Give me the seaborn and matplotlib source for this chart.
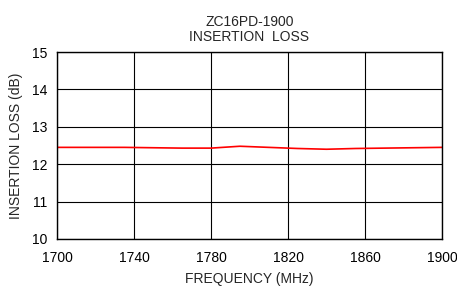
import matplotlib
matplotlib.use("Agg")
import matplotlib.pyplot as plt
import seaborn as sns
import pandas as pd

freq = [1700, 1720, 1735, 1750, 1765, 1780, 1795, 1810, 1825, 1840, 1855, 1870, 1885, 1900]
loss = [12.45, 12.45, 12.45, 12.44, 12.43, 12.43, 12.48, 12.45, 12.42, 12.40, 12.42, 12.43, 12.44, 12.45]
x_ticks = [1700, 1740, 1780, 1820, 1860, 1900]
y_ticks = [10, 11, 12, 13, 14, 15]

df = pd.DataFrame({"Frequency": freq, "Loss": loss})

sns.set_style("white")
plt.rcParams["font.family"] = ["Liberation Sans", "DejaVu Sans"]

fig = plt.figure(figsize=(4.57, 2.91), dpi=100)
ax = fig.add_axes([0.1247, 0.1787, 0.8425, 0.6426])

sns.lineplot(data=df, x="Frequency", y="Loss", color="red", linewidth=1.2, ax=ax)

ax.set_xlim(1700, 1900)
ax.set_ylim(10, 15)
ax.set_xticks(x_ticks)
ax.set_yticks(y_ticks)
ax.grid(True, color="black", linewidth=0.8)
for s in ax.spines.values():
    s.set_color("black")
    s.set_linewidth(1.0)
ax.tick_params(axis="both", direction="out", length=4, width=0.8, colors="black", labelsize=10, pad=3)
ax.tick_params(axis="x", pad=5)

ax.set_xlabel("FREQUENCY (MHz)", fontsize=10, labelpad=5)
ax.set_ylabel("INSERTION LOSS (dB)", fontsize=10, labelpad=6)
ax.set_title("ZC16PD-1900\nINSERTION  LOSS", fontsize=10, pad=8, linespacing=1.1)

fig.savefig("out.png", dpi=100)
